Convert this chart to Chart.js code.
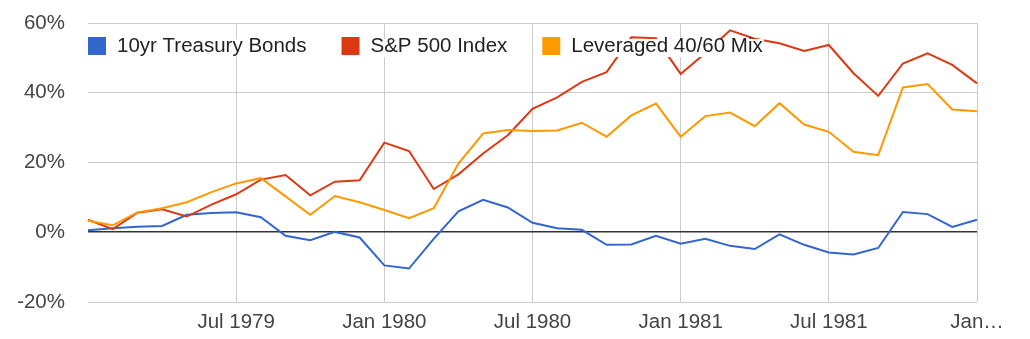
<!DOCTYPE html>
<html>
<head>
<meta charset="utf-8">
<script src="https://cdn.jsdelivr.net/npm/chart.js@4.4.1/dist/chart.umd.min.js"></script>
<style>
  html, body { margin: 0; padding: 0; background: #fff; }
  #wrap { width: 1030px; height: 339px; position: relative; }
</style>
</head>
<body>
<div id="wrap"><canvas id="chart"></canvas></div>
<script>
// monthly points, Jan 1979 .. Jan 1982
const months = [
  'Jan 1979', 'Feb 1979', 'Mar 1979', 'Apr 1979', 'May 1979', 'Jun 1979',
  'Jul 1979', 'Aug 1979', 'Sep 1979', 'Oct 1979', 'Nov 1979', 'Dec 1979',
  'Jan 1980', 'Feb 1980', 'Mar 1980', 'Apr 1980', 'May 1980', 'Jun 1980',
  'Jul 1980', 'Aug 1980', 'Sep 1980', 'Oct 1980', 'Nov 1980', 'Dec 1980',
  'Jan 1981', 'Feb 1981', 'Mar 1981', 'Apr 1981', 'May 1981', 'Jun 1981',
  'Jul 1981', 'Aug 1981', 'Sep 1981', 'Oct 1981', 'Nov 1981', 'Dec 1981',
  'Jan 1982'
];

const bonds = [
  0.6, 1.15, 1.55, 1.8, 5.0, 5.5, 5.7, 4.3, -1.0, -2.3, 0.1, -1.5,
  -9.5, -10.4, -1.9, 6.0, 9.3, 7.1, 2.7, 1.15, 0.7, -3.6, -3.5, -1.0,
  -3.3, -1.9, -3.9, -4.8, -0.6, -3.6, -5.8, -6.4, -4.5, 5.8, 5.2, 1.55,
  3.6
];

const sp500 = [
  3.6, 0.9, 5.6, 6.6, 4.5, 7.9, 10.9, 15.1, 16.4, 10.6, 14.5, 14.9,
  25.7, 23.3, 12.4, 16.6, 22.6, 27.8, 35.4, 38.7, 43.1, 45.9, 55.9, 55.6,
  45.4, 51.4, 57.9, 55.5, 54.2, 52.0, 53.7, 45.6, 39.1, 48.4, 51.3, 48.0,
  42.7
];

const leveraged = [
  3.3, 2.0, 5.7, 6.9, 8.6, 11.5, 14.0, 15.5, 10.3, 5.0, 10.4, 8.6,
  6.4, 4.0, 6.9, 19.7, 28.3, 29.3, 29.0, 29.2, 31.4, 27.4, 33.5, 36.9,
  27.4, 33.3, 34.3, 30.4, 37.0, 30.9, 28.8, 23.1, 22.1, 41.5, 42.5, 35.2,
  34.7
];

const seriesNames = ['10yr Treasury Bonds', 'S&P 500 Index', 'Leveraged 40/60 Mix'];
const yTicks = [-20, 0, 20, 40, 60];

const FONT = '"Liberation Sans", Arial, sans-serif';
Chart.defaults.font.family = FONT;
Chart.defaults.font.size = 20.5;
Chart.defaults.color = '#444';

// legend drawn inside the plot, google-style, with white behind the text
const insideLegend = {
  id: 'insideLegend',
  afterDatasetsDraw(chart) {
    const { ctx, chartArea } = chart;
    const top = chartArea.top + 14;
    let x = chartArea.left;
    ctx.save();
    ctx.font = '20.5px ' + FONT;
    ctx.textBaseline = 'middle';
    chart.data.datasets.forEach((ds) => {
      const w = ctx.measureText(ds.label).width;
      const tx = x + 18 + 11;
      ctx.fillStyle = '#fff';
      ctx.fillRect(tx - 1, top + 2, w + 2, 18);
      ctx.fillStyle = ds.borderColor;
      ctx.fillRect(x, top, 18, 18);
      ctx.fillStyle = '#222';
      ctx.fillText(ds.label, tx, top + 9);
      x = tx + w + 35;
    });
    ctx.restore();
  }
};

const line = (label, data, color, order) => ({
  label,
  data,
  borderColor: color,
  backgroundColor: color,
  borderWidth: 2,
  pointRadius: 0,
  tension: 0,
  order
});

new Chart(document.getElementById('chart'), {
  type: 'line',
  data: {
    labels: months,
    datasets: [
      line(seriesNames[0], bonds, '#3366cc', 2),
      line(seriesNames[1], sp500, '#dc3912', 1),
      line(seriesNames[2], leveraged, '#ff9900', 0)
    ]
  },
  options: {
    responsive: true,
    maintainAspectRatio: false,
    animation: false,
    layout: { padding: { left: 17, top: 23, right: 53, bottom: 0 } },
    plugins: {
      legend: { display: false },
      tooltip: { enabled: false }
    },
    scales: {
      x: {
        grid: {
          drawTicks: false,
          color: (c) => (c.tick && c.tick.label ? '#cccccc' : 'rgba(0,0,0,0)'),
          lineWidth: 1
        },
        border: { display: false },
        ticks: {
          autoSkip: false,
          maxRotation: 0,
          padding: 8,
          color: '#444',
          callback: (value, i) => {
            const m = months[i];
            if (i === 0) return '';
            if (i === months.length - 1) return m.slice(0, 3) + '…';
            return m.startsWith('Jan') || m.startsWith('Jul') ? m : '';
          }
        },
        afterFit: (scale) => { scale.height = 37; }
      },
      y: {
        min: yTicks[0],
        max: yTicks[yTicks.length - 1],
        afterBuildTicks: (scale) => { scale.ticks = yTicks.map((v) => ({ value: v })); },
        grid: {
          drawTicks: false,
          color: (c) => (c.tick && c.tick.value === 0 ? '#333333' : '#cccccc'),
          lineWidth: (c) => (c.tick && c.tick.value === 0 ? 1.6 : 1)
        },
        border: { display: false },
        ticks: {
          padding: 23,
          color: '#444',
          callback: (v) => v + '%'
        },
        afterFit: (scale) => {
          scale.width = 71;
          // tick padding would otherwise push the plot top down
          scale.paddingTop = 0;
          scale.paddingBottom = 0;
        }
      }
    }
  },
  plugins: [insideLegend]
});
</script>
</body>
</html>
